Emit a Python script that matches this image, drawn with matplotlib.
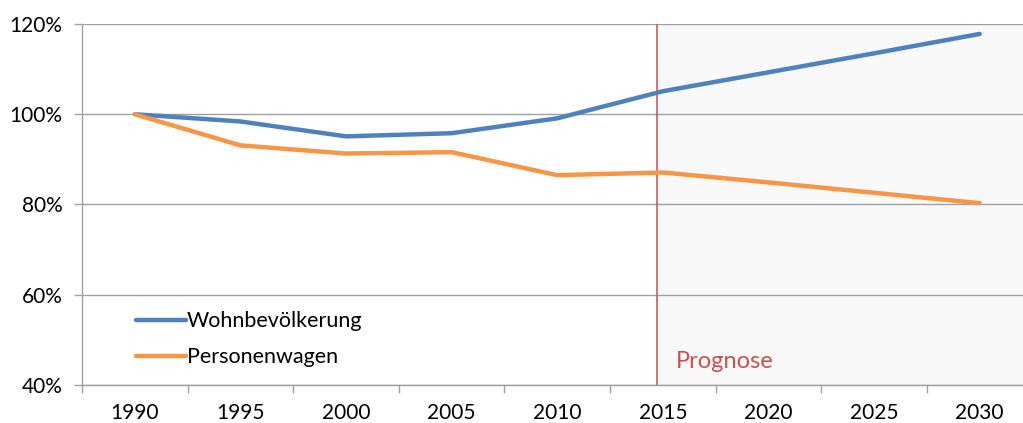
import numpy as np
import matplotlib.pyplot as plt
from matplotlib.ticker import FixedLocator, FuncFormatter

years = ['1990', '1995', '2000', '2005', '2010', '2015', '2020', '2025', '2030']
wohnbevoelkerung = [100.0, 98.4, 95.1, 95.8, 99.1, 105.1, 109.3, 113.5, 117.8]
personenwagen = [100.0, 93.1, 91.3, 91.6, 86.5, 87.1, 84.9, 82.6, 80.3]

plt.rcParams['font.family'] = ['Lato', 'DejaVu Sans']

fig = plt.figure(figsize=(10.23, 4.23), dpi=100)
ax = fig.add_axes([82 / 1023, 38 / 423, 941 / 1023, 361 / 423])

x = np.arange(len(years))
grey = '#a0a0a0'

ax.axvspan(4.94, 8.41, color='#f9f9f9', zorder=0)
ax.axvline(4.94, color='#c9504f', lw=1.1, zorder=3)

ax.plot(x, wohnbevoelkerung, color='#4f81bd', lw=3.2, solid_capstyle='round',
        label='Wohnbevölkerung', zorder=4)
ax.plot(x, personenwagen, color='#f79646', lw=3.2, solid_capstyle='round',
        label='Personenwagen', zorder=4)

ax.set_xlim(-0.5, 8.41)
ax.set_ylim(40, 120)
ax.set_yticks([40, 60, 80, 100, 120])
ax.yaxis.set_major_formatter(FuncFormatter(lambda v, p: f'{v:.0f}%'))
ax.grid(axis='y', color=grey, lw=1, zorder=1)

ax.set_xticks(x)
ax.set_xticklabels(years)
ax.xaxis.set_minor_locator(FixedLocator(np.arange(-0.5, 8.5, 1)))
ax.tick_params(axis='x', which='major', length=0, pad=13, labelsize=15)
ax.tick_params(axis='x', which='minor', length=6, color=grey, width=1)
ax.tick_params(axis='y', length=6, color=grey, width=1, labelsize=15, pad=8)

for s in ['top', 'right']:
    ax.spines[s].set_visible(False)
for s in ['left', 'bottom']:
    ax.spines[s].set_color(grey)
    ax.spines[s].set_linewidth(1)

ax.text(5.12, 45.3, 'Prognose', color='#c9504f', fontsize=17, va='center', ha='left')

ax.legend(loc='lower left', bbox_to_anchor=(0.037, -0.005), frameon=False,
          fontsize=15.5, handlelength=2.3, handletextpad=0.05, labelspacing=0.75)

fig.savefig('out.png', dpi=100)
